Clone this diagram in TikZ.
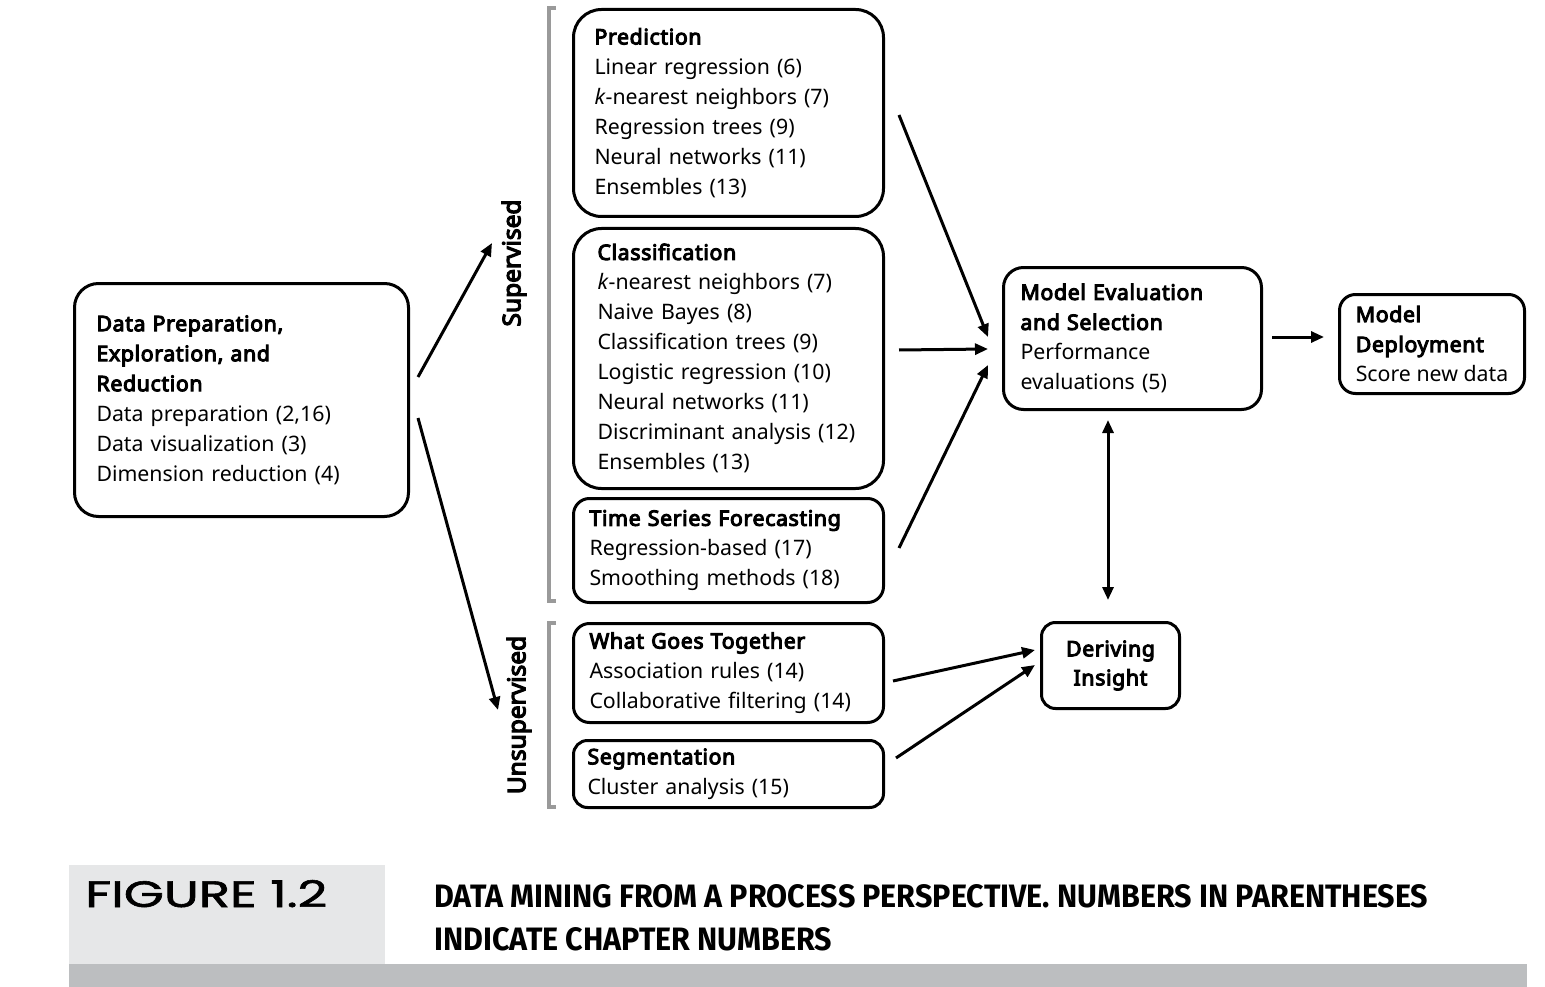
\documentclass[tikz,border=0pt]{standalone}
\usepackage{fontspec}
\usepackage{graphicx}
\setmainfont{Noto Sans}[AutoFakeBold=4.8]
\newfontfamily\figfont{Poppins}[FakeBold=1.5]
\newfontfamily\capfont{Fira Sans}
\newcommand\hb[1]{{\addfontfeature{LetterSpace=3}\bfseries #1}}
\usetikzlibrary{arrows.meta}
\definecolor{brgray}{HTML}{9A9A9A}
\definecolor{lightcap}{HTML}{E6E7E8}
\definecolor{darkbar}{HTML}{BCBEC0}
\tikzset{
  box/.style={draw, line width=3pt, rounded corners=24pt, anchor=north west, align=left,
    inner ysep=0pt, font=\fontsize{21.3}{30}\selectfont},
  flow/.style={line width=3pt, -{Triangle[length=13pt,width=11pt]}},
  dflow/.style={line width=3pt, {Triangle[length=13pt,width=11pt]}-{Triangle[length=13pt,width=11pt]}},
  bracket/.style={draw=brgray, line width=4pt},
  sidelabel/.style={rotate=90, font=\fontsize{24.5}{26}\selectfont\bfseries}
}
\begin{document}
\begin{tikzpicture}[x=1pt,y=-1pt]
\useasboundingbox (0,0) rectangle (1545,987);
% boxes
\node[box, inner xsep=22pt, text width=290pt, minimum height=233pt] (dp) at (73,282)
 {\hb{Data Preparation,}\\\hb{Exploration, and}\\\hb{Reduction}\\Data preparation (2,16)\\Data visualization (3)\\Dimension reduction (4)};
\node[box, rounded corners=28pt, inner xsep=21pt, text width=268pt, minimum height=207pt] (pred) at (572,8)
 {\hb{Prediction}\\Linear regression (6)\\\textit{k}-nearest neighbors (7)\\Regression trees (9)\\Neural networks (11)\\Ensembles (13)};
\node[box, rounded corners=28pt, inner xsep=24pt, text width=262pt, minimum height=260pt] (cls) at (572,227)
 {\hb{Classification}\\\textit{k}-nearest neighbors (7)\\Naive Bayes (8)\\Classification trees (9)\\Logistic regression (10)\\Neural networks (11)\\Discriminant analysis (12)\\Ensembles (13)};
\node[box, rounded corners=16pt, inner xsep=16pt, text width=278pt, minimum height=104pt] (ts) at (572,497)
 {\hb{Time Series Forecasting}\\Regression-based (17)\\Smoothing methods (18)};
\node[box, rounded corners=16pt, inner xsep=16pt, text width=278pt, minimum height=99pt] (wgt) at (572,622)
 {\hb{What Goes Together}\\Association rules (14)\\Collaborative filtering (14)};
\node[box, rounded corners=14pt, inner xsep=14pt, text width=282pt, minimum height=67pt] (seg) at (572,739)
 {\hb{Segmentation}\\Cluster analysis (15)};
\node[box, rounded corners=20pt, inner xsep=17pt, text width=224pt, minimum height=142pt] (me) at (1002,266)
 {\hb{Model Evaluation}\\\hb{and Selection}\\Performance\\evaluations (5)};
\node[box, rounded corners=16pt, inner xsep=0pt, minimum width=185pt, minimum height=99pt] (md) at (1338,293)
 {\hb{Model}\\\hb{Deployment}\\Score new data};
\node[box, rounded corners=14pt, align=center, inner xsep=8pt, text width=122pt, minimum height=86pt,
  font=\fontsize{21.3}{29}\selectfont] (di) at (1040,621)
 {\hb{Deriving}\\\hb{Insight}};
% brackets
\draw[bracket] (556,8) -- (549,8) -- (549,601) -- (556,601);
\draw[bracket] (556,623) -- (549,623) -- (549,807) -- (556,807);
\node[sidelabel] (sup) at (514,263) {Supervised};
\node[sidelabel] (unsup) at (519,715) {Unsupervised};
% connector endpoints
\coordinate (s1) at (418,377); \coordinate (e1) at (492,243);
\coordinate (s2) at (418,418); \coordinate (e2) at (498,710);
\coordinate (s3) at (899,115); \coordinate (e3) at (988,337);
\coordinate (s4) at (899,350); \coordinate (e4) at (988,349);
\coordinate (s5) at (899,548); \coordinate (e5) at (988,365);
\coordinate (s6) at (1272,337); \coordinate (e6) at (1324,337);
\coordinate (s7) at (1108,420); \coordinate (e7) at (1108,600);
\coordinate (s8) at (893,681); \coordinate (e8) at (1035,650);
\coordinate (s9) at (896,758); \coordinate (e9) at (1035,665);
\draw[flow] (s1) -- (e1);
\draw[flow] (s2) -- (e2);
\draw[flow] (s3) -- (e3);
\draw[flow] (s4) -- (e4);
\draw[flow] (s5) -- (e5);
\draw[flow] (s6) -- (e6);
\draw[dflow] (s7) -- (e7);
\draw[flow] (s8) -- (e8);
\draw[flow] (s9) -- (e9);
% caption
\fill[lightcap] (69,865) rectangle (385,964);
\fill[darkbar] (69,964) rectangle (1527,987);
\node[anchor=base west, inner sep=0pt] (fig) at (85,907) {\resizebox{242pt}{27pt}{\figfont FIGURE 1.2}};
\node[anchor=base west, inner sep=0pt] (cap1) at (434,907) {\resizebox{994pt}{23pt}{\capfont\bfseries DATA MINING FROM A PROCESS PERSPECTIVE. NUMBERS IN PARENTHESES}};
\node[anchor=base west, inner sep=0pt] (cap2) at (434,950) {\resizebox{398pt}{23pt}{\capfont\bfseries INDICATE CHAPTER NUMBERS}};
\end{tikzpicture}
\end{document}
